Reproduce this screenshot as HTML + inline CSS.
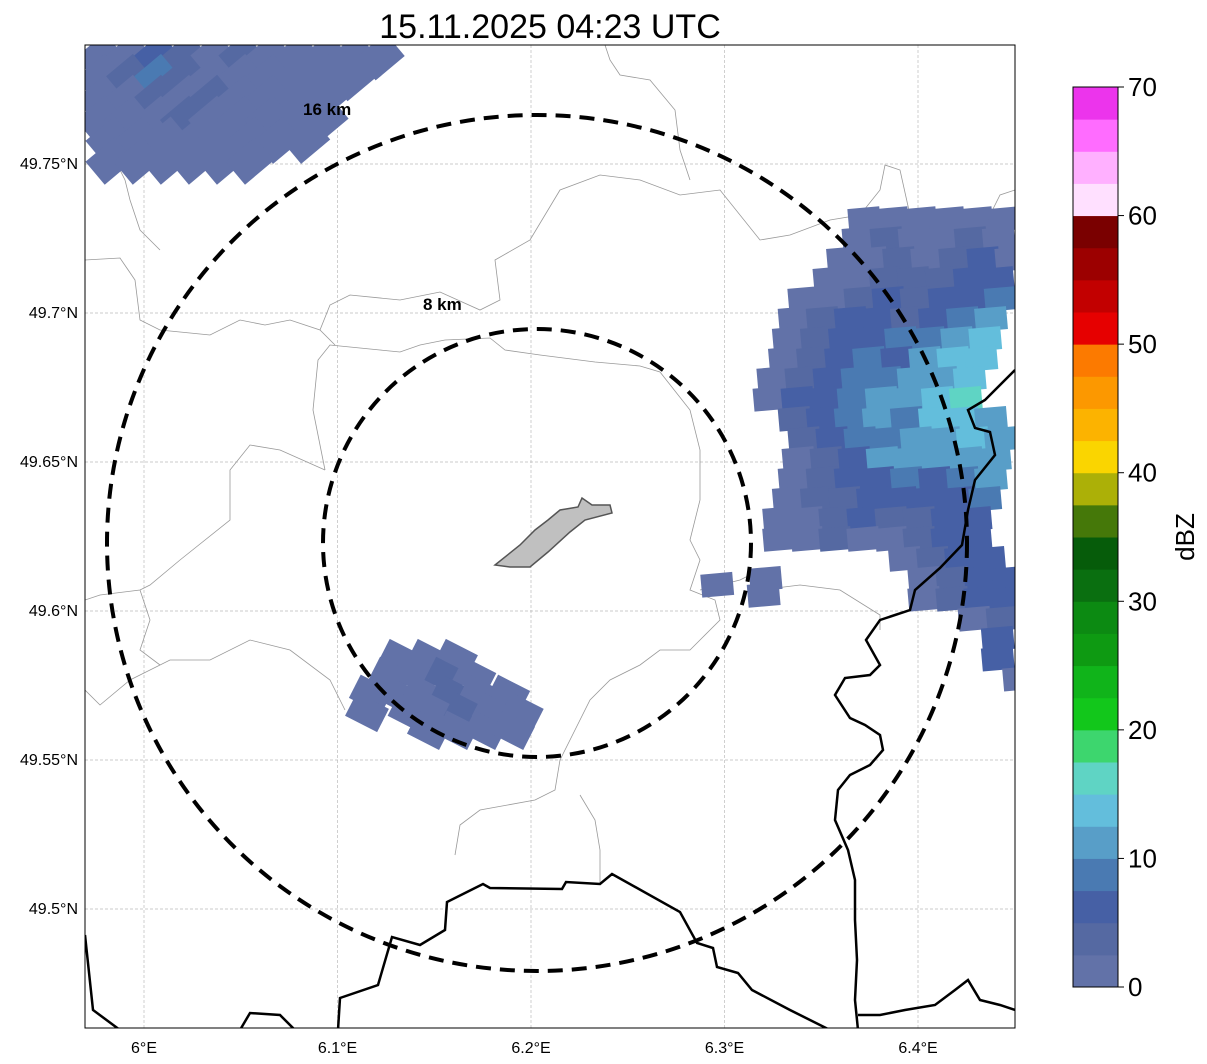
<!DOCTYPE html>
<html><head><meta charset="utf-8"><style>
body{margin:0;background:#fff;}
svg{display:block;font-family:"Liberation Sans",sans-serif;}
</style></head><body>
<svg id="chart" width="1207" height="1064" viewBox="0 0 1207 1064" xmlns="http://www.w3.org/2000/svg">
<defs><clipPath id="mapclip"><rect x="85" y="45" width="930" height="983"/></clipPath></defs>
<text x="550" y="38" font-size="34" text-anchor="middle">15.11.2025 04:23 UTC</text>
<g id="map" clip-path="url(#mapclip)">
 <g id="grid"></g>
 <g id="admin" fill="none" stroke="#999" stroke-width="0.8">
  <polyline points="325,470 313,410 318,360 330,345 380,350 400,352 420,345 445,340 490,338 505,350 540,355 595,362 640,366 660,372 690,410 700,450 700,500 690,540 700,560 690,590 715,600 720,620 700,640 690,650 660,650 640,665 610,680 590,700 560,760 555,790 535,800 480,810 460,825 455,855"/>
  <polyline points="85,260 120,258 135,280 140,320 160,330 210,335 240,320 265,325 290,320 320,330 335,345"/>
  <polyline points="320,330 330,305 350,295 400,300 440,292 480,310 500,300 495,260 530,240 560,190 600,175 640,180 680,195 720,190 760,240 790,235 830,220 860,215 880,190 885,165 900,170 910,215 960,230 990,215 1000,195 1015,190"/>
  <polyline points="85,690 100,705 130,680 170,660 210,660 250,640 290,650 330,680 340,700 345,710"/>
  <polyline points="140,590 150,620 140,650 160,665"/>
  <polyline points="325,470 280,450 250,445 230,470 230,520 180,560 150,585 140,590 100,595 85,600"/>
  <polyline points="580,795 595,820 600,850 600,885"/>
  <polyline points="700,590 740,580 760,570"/>
  <polyline points="760,590 800,585 840,590 880,615 880,630"/>
  <polyline points="110,150 125,180 130,200 140,230 160,250"/>
  <polyline points="605,45 610,60 620,75 650,80 675,110 680,150 690,180"/>
 </g>
 <g id="radar"></g>
 <g id="borders" fill="none" stroke="#000" stroke-width="2.5">
  <polyline points="85,935 93,1010 120,1030"/>
  <polyline points="240,1030 250,1013 280,1015 295,1030"/>
  <polyline points="338,1030 340,998 378,985 392,937 420,945 445,930 447,902 483,884 490,888 562,889 566,882 600,884 612,874 680,912 697,943 713,948 717,967 738,973 752,990 790,1010 830,1030"/>
  <polyline points="1015,370 1000,385 985,400 968,410 975,428 990,432 995,455 975,480 968,510 962,545 940,568 915,590 910,610 880,620 866,640 880,665 870,675 845,678 835,695 850,718 865,725 880,735 883,750 870,765 850,775 838,790 835,820 848,850 855,880 855,920 857,960 855,1000 858,1030"/>
  <polyline points="858,1015 880,1015 905,1010 935,1005 955,990 968,980 980,1000 1000,1005 1015,1010"/>
 </g>
 <polygon points="495,565 520,545 535,530 548,520 560,510 578,507 582,498 592,505 610,505 612,513 585,520 570,532 548,552 530,567 510,567" fill="#c0c0c0" stroke="#555" stroke-width="1.5"/>
 <ellipse cx="537" cy="543" rx="214" ry="214" fill="none" stroke="#000" stroke-width="4" stroke-dasharray="15,9"/>
 <ellipse cx="537" cy="543" rx="430" ry="428" fill="none" stroke="#000" stroke-width="4" stroke-dasharray="15,9"/>
 <text x="423" y="310" font-size="17" font-weight="bold">8 km</text>
 <text x="303" y="115" font-size="17" font-weight="bold">16 km</text>
</g>
<rect x="85" y="45" width="930" height="983" fill="none" stroke="#000" stroke-width="1"/>
<g id="axes" font-size="16"></g>
<g id="cbar"></g>
<text x="1194" y="537" font-size="26" text-anchor="middle" transform="rotate(-90 1194 537)">dBZ</text>
</svg>
<script>
const NS="http://www.w3.org/2000/svg";
const lonTicks=[6.0,6.1,6.2,6.3,6.4];
const lonLabels=["6°E","6.1°E","6.2°E","6.3°E","6.4°E"];
const latTicks=[49.75,49.7,49.65,49.6,49.55,49.5];
const latLabels=["49.75°N","49.7°N","49.65°N","49.6°N","49.55°N","49.5°N"];
const cbColors=["#6272a8","#5569a2","#4660a5","#4a7ab2","#589ec8","#63bedc","#5fd4c4","#3dd66e","#12c71b","#10b41a","#0e9a12","#0c8a12","#0a6f10","#065c0a","#457809","#acb007","#fad500","#fcb300","#fc9800","#fc7a00","#e60000","#c20000","#9c0000","#7a0000","#ffe0ff","#ffb0ff","#ff6cff","#ec34ec"];
const cbTicks=[0,10,20,30,40,50,60,70];
// radar rows: [lat, lonStart, dbz values...] cell width 0.0145 lon
const eastRows=[
[49.7315,6.365,1,1,2,1,1,2],[49.7248,6.362,2,4,2,1,4,2],[49.7181,6.354,1,2,4,2,4,5,2],
[49.7114,6.347,1,2,4,4,4,5,7],[49.7047,6.334,1,2,4,5,4,5,7,9],[49.698,6.329,2,4,5,7,4,5,9,11],
[49.6913,6.326,2,4,7,7,9,9,11,13],[49.6846,6.324,1,4,5,9,7,11,13,14],[49.6779,6.318,2,4,7,9,9,12,12,14],
[49.6712,6.316,1,5,7,9,11,11,13,16],[49.6645,6.329,4,7,9,11,9,13,14,12],[49.6577,6.334,4,7,9,9,11,11,13,12],
[49.651,6.331,2,4,7,11,12,11,11,12],[49.6443,6.329,2,4,5,7,9,7,9,11],[49.6376,6.326,1,4,4,5,7,5,7,9],
[49.6309,6.321,2,2,4,5,4,4,5,7],[49.6242,6.321,1,2,4,2,2,4,5,7],[49.6175,6.386,2,4,5,7],
[49.6108,6.396,2,4,7,7],[49.6041,6.396,1,4,5,5],[49.5974,6.422,2,4],[49.5907,6.434,5],[49.584,6.434,7],[49.5773,6.445,2],
[49.6088,6.289,2],[49.6108,6.314,1],[49.6054,6.313,2]
];
const nwRows=[
[49.786,5.97,2,2,7,4,2,4,2,1,2,2,2],[49.779,5.97,2,4,9,4,2,1,2,2,1,1],[49.772,5.97,2,2,4,2,4,2,1,2,1],
[49.765,5.97,2,1,2,4,2,1,2,1,1],[49.758,5.975,1,2,2,1,2,1,2,1],[49.751,5.975,1,2,1,2,1,1]
];
const swRows=[
[49.584,6.125,1,1,1],[49.578,6.12,1,1,3,1],[49.572,6.123,1,1,3,1,1],[49.566,6.13,1,1,3,1,1],[49.56,6.14,1,1,1,1],[49.572,6.11,1],[49.566,6.108,1]
];
const X=lon=>144+(lon-6.0)*1935;
const Y=lat=>164+(49.75-lat)*2980;
const cbY=v=>987-v*900/70;
function dbzColor(v){return cbColors[Math.min(cbColors.length-1,Math.floor(v/2.5))];}
const grid=document.getElementById('grid');
lonTicks.forEach((t,i)=>{
 const l=document.createElementNS(NS,'line');
 
 
 l.setAttribute('x1',X(t));l.setAttribute('x2',X(t));l.setAttribute('y1',45);l.setAttribute('y2',1028);
 l.setAttribute('stroke','#bbb');l.setAttribute('stroke-width','0.7');l.setAttribute('stroke-dasharray','3,2');grid.appendChild(l);
 const tx=document.createElementNS(NS,'text');
 
 
 tx.setAttribute('x',X(t));tx.setAttribute('y',1053);tx.setAttribute('text-anchor','middle');tx.textContent=lonLabels[i];
 document.getElementById('axes').appendChild(tx);
});
latTicks.forEach((t,i)=>{
 const l=document.createElementNS(NS,'line');
 
 
 l.setAttribute('y1',Y(t));l.setAttribute('y2',Y(t));l.setAttribute('x1',85);l.setAttribute('x2',1015);
 l.setAttribute('stroke','#bbb');l.setAttribute('stroke-width','0.7');l.setAttribute('stroke-dasharray','3,2');grid.appendChild(l);
 const tx=document.createElementNS(NS,'text');
 
 
 tx.setAttribute('x',78);tx.setAttribute('y',Y(t)+5);tx.setAttribute('text-anchor','end');tx.textContent=latLabels[i];
 document.getElementById('axes').appendChild(tx);
});
const radar=document.getElementById('radar');
function drawRows(rows,w,h,rot,gname){
 const g=document.createElementNS(NS,'g');
 
 
 rows.forEach(r=>{
  const lat=r[0],lon0=r[1];
  for(let k=2;k<r.length;k++){
   const cx=X(lon0+(k-2)*0.0145)+14,cy=Y(lat);
   const rc=document.createElementNS(NS,'rect');
   
   
   rc.setAttribute('x',cx-w/2);rc.setAttribute('y',cy-h/2);rc.setAttribute('width',w);rc.setAttribute('height',h);
   rc.setAttribute('fill',dbzColor(r[k]));
   rc.setAttribute('transform','rotate('+rot+' '+cx+' '+cy+')');
   g.appendChild(rc);
  }
 });
 radar.appendChild(g);
}
drawRows(eastRows,32,23,-5,'east-echo');
drawRows(nwRows,38,30,-40,'northwest-echo');
drawRows(swRows,36,26,27,'southwest-echo');
const cb=document.getElementById('cbar');
cbColors.forEach((c,i)=>{
 const lo=i*2.5,hi=(i+1)*2.5;
 const r=document.createElementNS(NS,'rect');
 
 
 r.setAttribute('x',1073);r.setAttribute('y',cbY(hi));r.setAttribute('width',45);r.setAttribute('height',cbY(lo)-cbY(hi)+0.5);
 r.setAttribute('fill',c);cb.appendChild(r);
});
const fr=document.createElementNS(NS,'rect');


fr.setAttribute('x',1073);fr.setAttribute('y',cbY(70));fr.setAttribute('width',45);fr.setAttribute('height',900);
fr.setAttribute('fill','none');fr.setAttribute('stroke','#000');cb.appendChild(fr);
cbTicks.forEach(t=>{
 const l=document.createElementNS(NS,'line');
 
 
 l.setAttribute('x1',1118);l.setAttribute('x2',1124);l.setAttribute('y1',cbY(t));l.setAttribute('y2',cbY(t));l.setAttribute('stroke','#000');cb.appendChild(l);
 const tx=document.createElementNS(NS,'text');
 
 
 tx.setAttribute('x',1128);tx.setAttribute('y',cbY(t)+9);tx.setAttribute('font-size','26');tx.textContent=t;cb.appendChild(tx);
});
</script>
</body></html>
